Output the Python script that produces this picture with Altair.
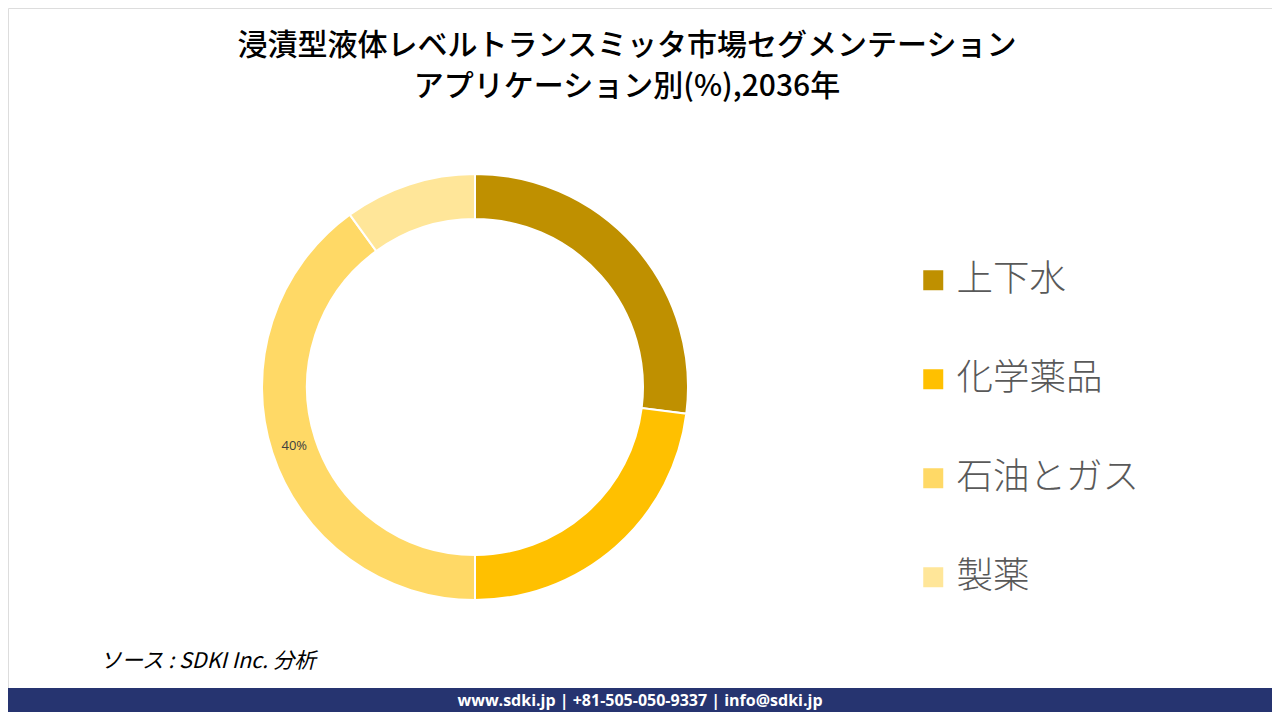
import altair as alt
import pandas as pd

categories = ["上下水", "化学薬品", "石油とガス", "製薬"]
values = [27, 23, 40, 10]
colors = ["#BF9000", "#FFC000", "#FFD966", "#FFE699"]
title_lines = ["浸漬型液体レベルトランスミッタ市場セグメンテーション", "アプリケーション別(%),2036年"]
source_text = "ソース : SDKI Inc. 分析"
footer_text = "www.sdki.jp | +81-505-050-9337 | info@sdki.jp"

df = pd.DataFrame({"category": categories, "value": values, "order": list(range(len(categories)))})
one = pd.DataFrame({"a": [0]})

W, H = 1264, 704
CX, CY = 467, 379

arc = alt.Chart(df).mark_arc(outerRadius=213, innerRadius=168, stroke="white", strokeWidth=2).encode(
    theta=alt.Theta("value:Q", stack=True),
    color=alt.Color("category:N",
                    scale=alt.Scale(domain=categories, range=colors),
                    sort=categories,
                    legend=alt.Legend(title=None, orient="none", legendX=907, legendY=254,
                                      symbolType="square", symbolSize=400, symbolStrokeWidth=0,
                                      labelFontSize=36.5, labelColor="#595959", labelLimit=0,
                                      labelFont="Noto Sans CJK JP", labelFontWeight=300,
                                      rowPadding=62, labelOffset=5)),
    order=alt.Order("order:Q"),
    x=alt.value(CX), y=alt.value(CY),
)

labels = alt.Chart(df).transform_calculate(
    lab="datum.value >= 30 ? datum.value + '%' : ''"
).mark_text(radius=190, fontSize=13, color="#404040", font="Open Sans").encode(
    theta=alt.Theta("value:Q", stack=True),
    order=alt.Order("order:Q"),
    text="lab:N",
    x=alt.value(CX), y=alt.value(CY),
)

title = alt.Chart(one).mark_text(text=title_lines, fontSize=30, lineHeight=41, font="Noto Sans CJK JP",
                                 fontWeight=500, color="#000000", align="center", baseline="middle").encode(
    x=alt.value(619), y=alt.value(38))

src = alt.Chart(one).mark_text(text=source_text, fontSize=21.5, font="Noto Sans CJK JP", fontStyle="italic",
                               color="#000000", align="left", baseline="middle").encode(
    x=alt.value(92), y=alt.value(654))

bar = alt.Chart(one).mark_rect(color="#263470").encode(
    x=alt.value(-8), x2=alt.value(W + 8), y=alt.value(680), y2=alt.value(H + 8))

foot = alt.Chart(one).mark_text(text=footer_text, fontSize=16, font="Open Sans", fontWeight="bold",
                                color="white", align="center", baseline="middle").encode(
    x=alt.value(632), y=alt.value(693))

chart = alt.layer(arc, labels, title, src, bar, foot).properties(
    width=W, height=H, autosize=alt.AutoSizeParams(type="none"), padding=0
).configure_view(stroke=None).configure(background="white")

chart.save("out.html", embed_options={"renderer": "svg", "actions": False})
